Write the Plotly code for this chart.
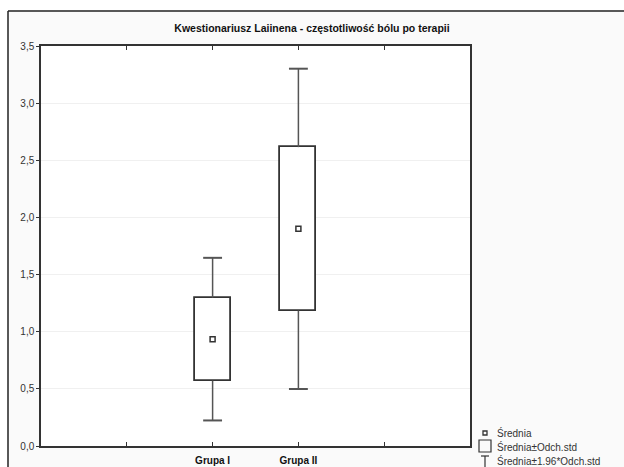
import plotly.graph_objects as go

groups = ["Grupa I", "Grupa II"]
positions = [2, 3]
means = [0.935, 1.90]
sds = [0.363, 0.715]
z = 1.96
y_ticks = [0.0, 0.5, 1.0, 1.5, 2.0, 2.5, 3.0, 3.5]

fig = go.Figure()

# whiskers (mean ± 1.96*sd) from box edge to cap
wx, wy, cx, cy = [], [], [], []
cap_half = 0.11
for p, m, s in zip(positions, means, sds):
    wx += [p, p, None, p, p, None]
    wy += [m + s, m + z * s, None, m - s, m - z * s, None]
    cx += [p - cap_half, p + cap_half, None, p - cap_half, p + cap_half, None]
    cy += [m + z * s, m + z * s, None, m - z * s, m - z * s, None]
fig.add_trace(go.Scatter(x=wx, y=wy, mode="lines", line=dict(color="#555555", width=1.5),
                         hoverinfo="skip", showlegend=False))
fig.add_trace(go.Scatter(x=cx, y=cy, mode="lines", line=dict(color="#555555", width=2),
                         hoverinfo="skip", showlegend=False))

# boxes (mean ± sd)
fig.add_trace(go.Bar(x=positions, y=[2 * s for s in sds], base=[m - s for m, s in zip(means, sds)],
                     width=0.42, marker=dict(color="white", line=dict(color="#333333", width=1.8)),
                     showlegend=False))

# means
fig.add_trace(go.Scatter(x=positions, y=means, mode="markers",
                         marker=dict(symbol="square-open", size=5, color="#333333", line=dict(width=1.5)),
                         showlegend=False))

fig.update_layout(
    width=624, height=467,
    margin=dict(l=41, r=154, t=46, b=21, autoexpand=False),
    paper_bgcolor="#fafafa", plot_bgcolor="white",
    separators=", ",
    font=dict(family="Liberation Sans, Arial, sans-serif", size=10, color="#333333"),
    title=dict(text="<b>Kwestionariusz Laiinena - częstotliwość bólu po terapii</b>",
               x=0.5, xref="container", xanchor="center", y=1 - 28 / 467, yanchor="middle",
               font=dict(size=10.5, color="#111111")),
    bargap=0,
    xaxis=dict(range=[0, 5], tickvals=[1, 2, 3, 4],
               ticktext=["", "<b>" + groups[0] + "</b>", "<b>" + groups[1] + "</b>", ""],
               ticks="inside", ticklen=4, tickcolor="#333333", mirror="ticks",
               showline=True, linecolor="#333333", linewidth=1.5, showgrid=False, zeroline=False,
               automargin=False, ticklabelstandoff=4, tickfont=dict(size=10, color="#111111")),
    yaxis=dict(range=[0, 3.5], tickvals=y_ticks, tickformat=".1f",
               ticks="outside", ticklen=3, tickcolor="#333333",
               showline=True, linecolor="#333333", linewidth=1.5, mirror=True,
               showgrid=True, gridcolor="#f0f0f0", gridwidth=1, zeroline=False,
               automargin=False, tickfont=dict(size=10, color="#333333")),
)

# outer frame (top and left lines) and white strip above it
fig.add_shape(type="rect", xref="paper", yref="paper", x0=-41 / 429, x1=583 / 429,
              y0=1 + 36 / 400, y1=1 + 46 / 400, fillcolor="white", line=dict(width=0), layer="below")
fig.add_shape(type="rect", xref="paper", yref="paper", x0=-41 / 429, x1=-33 / 429,
              y0=-21 / 400, y1=1 + 46 / 400, fillcolor="white", line=dict(width=0), layer="below")
fig.add_shape(type="line", xref="paper", yref="paper", x0=-33 / 429, x1=583 / 429,
              y0=1 + 35 / 400, y1=1 + 35 / 400, line=dict(color="#222222", width=1.5))
fig.add_shape(type="line", xref="paper", yref="paper", x0=-33 / 429, x1=-33 / 429,
              y0=-21 / 400, y1=1 + 35 / 400, line=dict(color="#222222", width=1.5))

# legend (drawn manually)
def px_x(px):
    return (px - 41) / 429

def px_y(py):
    return (446 - py) / 400

lx = 485
fig.add_shape(type="rect", xref="paper", yref="paper", x0=px_x(lx - 2), x1=px_x(lx + 2),
              y0=px_y(435), y1=px_y(431), line=dict(color="#333333", width=1.3))
fig.add_shape(type="rect", xref="paper", yref="paper", x0=px_x(lx - 6), x1=px_x(lx + 6),
              y0=px_y(452), y1=px_y(440), line=dict(color="#333333", width=1.2))
fig.add_shape(type="line", xref="paper", yref="paper", x0=px_x(lx - 4), x1=px_x(lx + 4),
              y0=px_y(456), y1=px_y(456), line=dict(color="#333333", width=1.2))
fig.add_shape(type="line", xref="paper", yref="paper", x0=px_x(lx), x1=px_x(lx),
              y0=px_y(456), y1=px_y(468), line=dict(color="#333333", width=1.2))
legend_texts = ["Średnia", "Średnia±Odch.std", "Średnia±1.96*Odch.std"]
for t, ty in zip(legend_texts, [433, 447, 461]):
    fig.add_annotation(text=t, xref="paper", yref="paper", x=px_x(lx + 10), y=px_y(ty),
                       xanchor="left", yanchor="middle", showarrow=False,
                       font=dict(size=10, color="#333333"))

fig.write_html("out.html")
